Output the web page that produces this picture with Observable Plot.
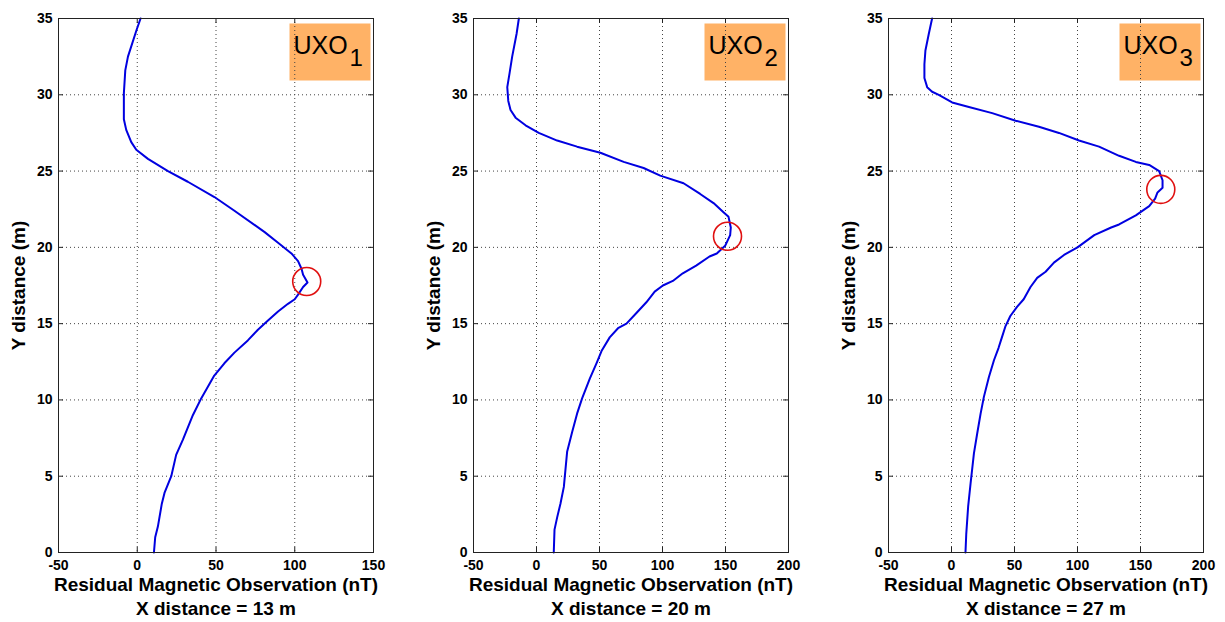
<!DOCTYPE html>
<html><head><meta charset="utf-8">
<script src="https://cdn.jsdelivr.net/npm/d3@7"></script>
<script src="https://cdn.jsdelivr.net/npm/@observablehq/plot@0.6"></script>
<style>
html,body{margin:0;padding:0;background:#fff;}
#chart{position:relative;width:1225px;height:622px;overflow:hidden;font-family:"Liberation Sans",Arial,sans-serif;}
#chart svg{position:absolute;top:0;}
</style></head><body><div id="chart"></div>
<script>
// ---- data ----
const panelTitle = "UXO";
const subscripts = ["1", "2", "3"];
const xDistances = [13, 20, 27];
const xLabel = "Residual Magnetic Observation (nT)";
const yLabel = "Y distance (m)";
const yTicks = [0, 5, 10, 15, 20, 25, 30, 35];
const xTicks1 = [-50, 0, 50, 100, 150];
const xTicks2 = [-50, 0, 50, 100, 150, 200];
const xTicks3 = [-50, 0, 50, 100, 150, 200];

const uxo1X = [10.6, 11.4, 13.1, 15.6, 17.3, 21.6, 24.7, 29.0, 35.3, 40.6, 48.9, 55.3, 61.7, 70.2, 76.6, 83.0, 89.4, 95.7, 100.0, 102.1, 105.3, 108.1, 105.3, 104.3, 102.1, 97.9, 89.4, 80.9, 61.7, 49.0, 32.1, 19.5, 6.8, -0.6, -3.8, -7.0, -8.5, -8.5, -7.6, -5.9, -0.6, 2.1];
const uxo1Y = [0, 1.0, 1.7, 3.2, 3.9, 5.0, 6.4, 7.4, 9.0, 10.1, 11.6, 12.4, 13.1, 13.9, 14.6, 15.2, 15.8, 16.3, 16.6, 16.9, 17.4, 17.7, 18.2, 18.6, 19.1, 19.6, 20.3, 21.0, 22.4, 23.3, 24.3, 25.0, 25.8, 26.4, 26.9, 27.7, 28.4, 30.1, 31.6, 32.5, 34.2, 35];

const uxo2X = [13.7, 14.3, 16.4, 19.0, 21.7, 24.3, 28.3, 32.2, 36.2, 42.3, 47.6, 51.6, 58.1, 64.7, 71.4, 79.3, 87.2, 93.8, 100.3, 108.2, 116.1, 126.7, 137.3, 143.1, 149.7, 153.7, 154.2, 152.4, 148.4, 140.5, 129.9, 116.7, 98.2, 85.0, 69.2, 50.7, 32.2, 16.4, 1.8, -8.7, -16.6, -20.6, -22.4, -23.2, -21.4, -19.3, -15.8, -14.0];
const uxo2Y = [0, 1.5, 2.3, 3.2, 4.3, 6.6, 7.9, 9.1, 10.1, 11.4, 12.4, 13.2, 14.1, 14.7, 15.0, 15.7, 16.4, 17.1, 17.5, 17.8, 18.3, 18.8, 19.4, 19.6, 20.1, 20.8, 21.3, 22.0, 22.3, 22.9, 23.5, 24.2, 24.7, 25.2, 25.6, 26.2, 26.6, 27.0, 27.5, 28.0, 28.5, 29.0, 29.6, 30.5, 31.4, 32.5, 34.0, 35];

const uxo3X = [11.1, 11.7, 13.2, 15.1, 17.8, 20.4, 23.1, 25.7, 29.7, 33.7, 37.3, 40.0, 42.7, 46.7, 52.0, 57.3, 62.7, 68.0, 74.7, 81.3, 89.3, 100.0, 113.3, 126.7, 133.0, 146.3, 156.9, 161.6, 163.5, 167.5, 167.5, 164.8, 156.9, 146.3, 133.0, 117.1, 101.2, 85.3, 69.4, 50.9, 32.3, 13.8, 0.5, -10.1, -15.4, -19.3, -21.5, -21.5, -20.7, -18.0, -15.4];
const uxo3Y = [0, 1.2, 3.0, 4.5, 6.5, 7.8, 9.1, 10.2, 11.5, 12.6, 13.4, 14.1, 14.8, 15.5, 16.1, 16.6, 17.4, 18.0, 18.4, 19.0, 19.5, 20.0, 20.8, 21.3, 21.5, 22.1, 22.7, 23.2, 23.6, 23.9, 24.4, 25.0, 25.4, 25.6, 26.0, 26.6, 27.0, 27.5, 27.9, 28.3, 28.8, 29.2, 29.5, 30.0, 30.2, 30.5, 31.1, 32.0, 32.9, 34.0, 35];

const peakX = [107.6, 151.6, 166.1];
const peakY = [17.76, 20.73, 23.8];

// ---- drawing ----
const panels = [
  {xs: uxo1X, ys: uxo1Y, ticks: xTicks1, left: 0},
  {xs: uxo2X, ys: uxo2Y, ticks: xTicks2, left: 415},
  {xs: uxo3X, ys: uxo3Y, ticks: xTicks3, left: 830}
];
const W = 395, H = 622, mL = 58, mR = 22, mT = 18, mB = 70;
const pw = W - mL - mR, ph = H - mT - mB;
const font = '"Liberation Sans", Arial, Helvetica, sans-serif';
const chart = document.getElementById("chart");

panels.forEach((p, i) => {
  const data = p.xs.map((x, j) => ({x, y: p.ys[j]}));
  const peak = [{x: peakX[i], y: peakY[i]}];
  const svg = Plot.plot({
    width: W, height: H,
    marginLeft: mL, marginRight: mR, marginTop: mT, marginBottom: mB,
    style: {fontFamily: font, fontWeight: "bold", fontSize: "14px", color: "#000", background: "transparent", overflow: "visible"},
    x: {domain: [p.ticks[0], p.ticks[p.ticks.length - 1]], ticks: p.ticks},
    y: {domain: [0, 35], ticks: yTicks},
    marks: [
      Plot.frame({fill: "#ffb266", stroke: "none", insetLeft: pw - 84, insetRight: 3, insetTop: 5, insetBottom: ph - 62}),
      Plot.gridX(p.ticks, {stroke: "#444", strokeOpacity: 1, strokeDasharray: "1,3"}),
      Plot.gridY(yTicks, {stroke: "#444", strokeOpacity: 1, strokeDasharray: "1,3"}),
      Plot.tickX(p.ticks, {x: d => d, insetTop: ph - 5, stroke: "#222"}),
      Plot.tickX(p.ticks, {x: d => d, insetBottom: ph - 5, stroke: "#222"}),
      Plot.tickY(yTicks, {y: d => d, insetRight: pw - 5, stroke: "#222"}),
      Plot.tickY(yTicks, {y: d => d, insetLeft: pw - 5, stroke: "#222"}),
      Plot.axisX(p.ticks, {tickSize: 0, tickPadding: 8, label: null, tickFormat: d => String(d), fontSize: 14, fontWeight: "bold"}),
      Plot.axisY(yTicks, {tickSize: 0, tickPadding: 6, label: null, tickFormat: d => String(d), fontSize: 14, fontWeight: "bold"}),
      Plot.line(data, {x: "x", y: "y", stroke: "#0000e0", strokeWidth: 2}),
      Plot.dot(peak, {x: "x", y: "y", r: 14, stroke: "#e01010", strokeWidth: 1.6, fill: "none"}),
      Plot.frame({stroke: "#222"}),
      Plot.text([panelTitle], {text: d => d, frameAnchor: "top-right", textAnchor: "start", lineAnchor: "bottom", dx: -80, dy: 35.3, fontSize: 25, fontWeight: "normal", fill: "#000"}),
      Plot.text([subscripts[i]], {text: d => d, frameAnchor: "top-right", textAnchor: "start", lineAnchor: "bottom", dx: -24, dy: 47.7, fontSize: 24, fontWeight: "normal", fill: "#000"}),
      Plot.text([xLabel + "\nX distance = " + xDistances[i] + " m"], {text: d => d, frameAnchor: "bottom", textAnchor: "middle", lineAnchor: "bottom", dy: 62, fontSize: 19, fontWeight: "bold", lineHeight: 1.263}),
      Plot.text([yLabel], {text: d => d, frameAnchor: "left", textAnchor: "middle", rotate: -90, dx: -40, fontSize: 19, fontWeight: "bold"})
    ]
  });
  svg.style.left = p.left + "px";
  chart.appendChild(svg);
});
</script>
</body></html>
